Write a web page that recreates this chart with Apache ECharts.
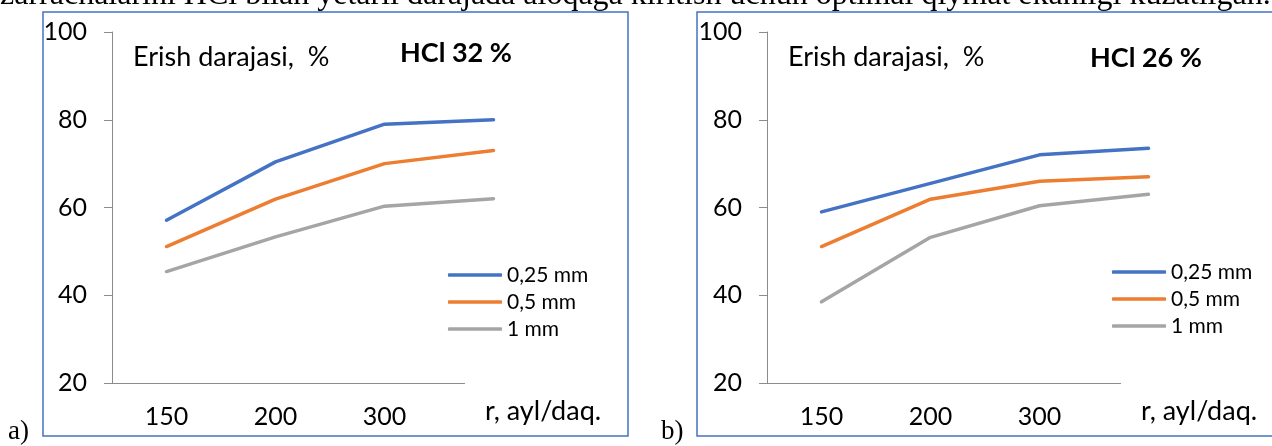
<!DOCTYPE html>
<html>
<head>
<meta charset="utf-8">
<script src="https://cdn.jsdelivr.net/npm/echarts@6/dist/echarts.min.js"></script>
<style>
  html, body { margin: 0; padding: 0; background: #fff; }
  #chart { width: 1272px; height: 446px; }
</style>
</head>
<body>
<div id="chart"></div>
<script>
  // rotation speed, r (ayl/daq.) - 4th label is hidden behind the axis-name box
  const speeds = ['150', '200', '300', ''];
  const sizes = ['0,25 mm', '0,5 mm', '1 mm'];
  const colors = ['#4472C4', '#ED7D31', '#A5A5A5'];
  const yTicks = [20, 100, 20]; // min, max, step

  // a) HCl 32 %
  const hcl32_025 = [57.1, 70.4, 79, 80];
  const hcl32_05 = [51.1, 61.9, 70, 73];
  const hcl32_1 = [45.4, 53.3, 60.3, 62];
  // b) HCl 26 %
  const hcl26_025 = [59, 65.5, 72, 73.5];
  const hcl26_05 = [51.1, 61.9, 66, 67];
  const hcl26_1 = [38.5, 53.2, 60.4, 63];

  const FONT = 'Lato';
  const chart = echarts.init(document.getElementById('chart'));

  function xAx(idx) {
    return {
      type: 'category', gridIndex: idx, data: speeds, boundaryGap: true,
      axisLine: { lineStyle: { color: '#8c8c8c', width: 1 } },
      axisTick: { length: 8, lineStyle: { color: '#8c8c8c' } },
      axisLabel: { color: '#000', fontFamily: FONT, fontSize: 25, margin: 21 },
      splitLine: { show: false }
    };
  }
  function yAx(idx) {
    return {
      type: 'value', gridIndex: idx, min: yTicks[0], max: yTicks[1], interval: yTicks[2],
      axisLine: { show: true, lineStyle: { color: '#8c8c8c', width: 1 } },
      axisTick: { show: true, length: 8, lineStyle: { color: '#8c8c8c' } },
      axisLabel: { color: '#000', fontFamily: FONT, fontSize: 25, margin: 25 },
      splitLine: { show: false }
    };
  }
  function ser(name, data, c, idx) {
    return {
      name: name, type: 'line', data: data, xAxisIndex: idx, yAxisIndex: idx,
      symbol: 'none', color: c,
      lineStyle: { width: 3.5, color: c, cap: 'round' }
    };
  }
  function leg(left, top) {
    return {
      orient: 'vertical', left: left, top: top, data: sizes,
      icon: 'roundRect', itemWidth: 54, itemHeight: 3.5, itemGap: 5,
      textStyle: { fontFamily: FONT, fontSize: 21, color: '#000', lineHeight: 22 }
    };
  }
  function axisNameBox(x, w) {
    return [
      { type: 'rect', z: 100, shape: { x: x, y: 381, width: w, height: 54 },
        style: { fill: '#fff', stroke: null } },
      { type: 'text', z: 101, x: x + 20, y: 411,
        style: { text: 'r, ayl/daq.', font: '27px ' + FONT, fill: '#000', verticalAlign: 'middle' } }
    ];
  }
  function label(text, x, y, bold) {
    return { type: 'text', z: 50, x: x, y: y,
      style: { text: text, font: (bold ? 'bold ' : '') + '27px ' + FONT, fill: '#000', verticalAlign: 'middle' } };
  }

  chart.setOption({
    animation: false,
    grid: [
      { left: 112, top: 32, width: 436, height: 351 },
      { left: 767, top: 32, width: 436, height: 351 }
    ],
    xAxis: [xAx(0), xAx(1)],
    yAxis: [yAx(0), yAx(1)],
    legend: [leg(443, 259), leg(1107, 256)],
    series: [
      ser(sizes[0], hcl32_025, colors[0], 0),
      ser(sizes[1], hcl32_05, colors[1], 0),
      ser(sizes[2], hcl32_1, colors[2], 0),
      ser(sizes[0], hcl26_025, colors[0], 1),
      ser(sizes[1], hcl26_05, colors[1], 1),
      ser(sizes[2], hcl26_1, colors[2], 1)
    ],
    graphic: [
      { type: 'text', x: 0, y: 12, z: 10,
        style: { text: 'zarrachalarini HCl bilan yetarli darajada aloqaga kiritish uchun optimal qiymat ekanligi kuzatilgan.',
                 font: '32px "Liberation Serif"', fill: '#000', verticalAlign: 'bottom' } },
      { type: 'rect', z: 1, shape: { x: 43, y: 12, width: 585, height: 424 },
        style: { fill: 'none', stroke: '#4472C4', lineWidth: 1.5 } },
      { type: 'rect', z: 1, shape: { x: 697, y: 12, width: 600, height: 424 },
        style: { fill: 'none', stroke: '#4472C4', lineWidth: 1.5 } },
      ...axisNameBox(465, 162),
      ...axisNameBox(1121, 160),
      label('Erish darajasi,  %', 133, 57, false),
      label('HCl 32 %', 400, 53, true),
      label('Erish darajasi,  %', 788, 57, false),
      label('HCl 26 %', 1090, 58, true),
      { type: 'text', x: 8, y: 445, style: { text: 'a)', font: '27px "Liberation Serif"', fill: '#000', verticalAlign: 'bottom' } },
      { type: 'text', x: 661, y: 445, style: { text: 'b)', font: '27px "Liberation Serif"', fill: '#000', verticalAlign: 'bottom' } }
    ]
  });
</script>
</body>
</html>
